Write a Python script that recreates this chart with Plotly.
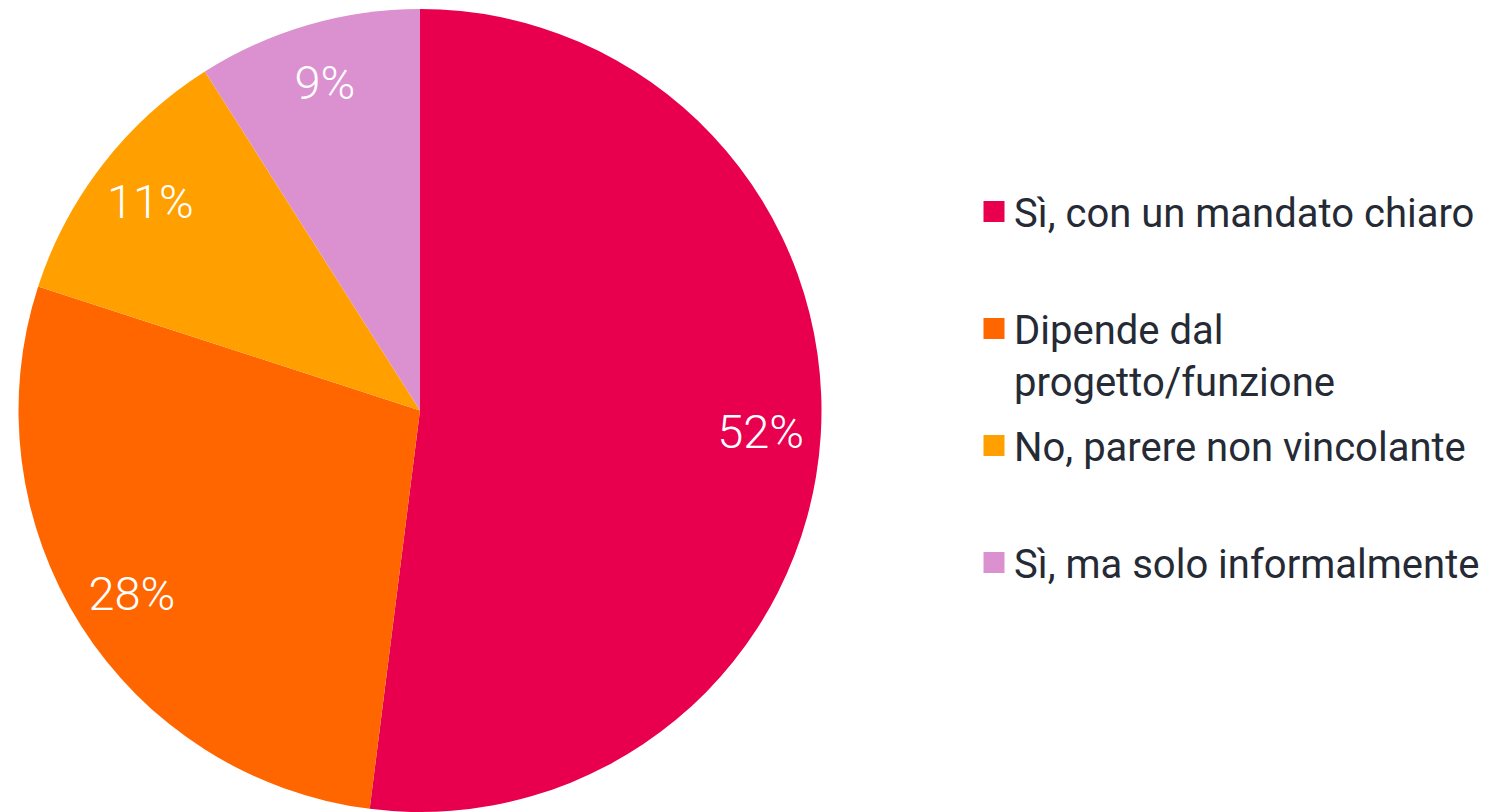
import plotly.graph_objects as go

labels = ["Sì, con un mandato chiaro", "Dipende dal<br>progetto/funzione",
          "No, parere non vincolante", "Sì, ma solo informalmente"]
values = [52, 28, 11, 9]
colors = ["#E8004F", "#FF6600", "#FFA000", "#DB91D0"]

# page body has an 8px margin, so the figure is sized to fit the window
W, H = 1491, 804
PIE_DOMAIN = dict(x=[0, 824 / W], y=[0, 1])

fig = go.Figure()
# filled pie (no text)
fig.add_trace(go.Pie(
    labels=labels, values=values, sort=False, direction="clockwise", rotation=0,
    marker=dict(colors=colors, line=dict(width=0)),
    textinfo="none", domain=PIE_DOMAIN, showlegend=False,
    hoverinfo="label+percent",
))
# transparent ring on top carrying the percentage labels near the rim
fig.add_trace(go.Pie(
    labels=labels, values=values, sort=False, direction="clockwise", rotation=0,
    hole=0.7,
    marker=dict(colors=["rgba(0,0,0,0)"] * len(values), line=dict(width=0)),
    texttemplate="%{percent:.0%}", textposition="inside",
    insidetextorientation="horizontal",
    textfont=dict(family="Roboto", size=47, color="white", weight=300),
    domain=PIE_DOMAIN, showlegend=False, hoverinfo="skip",
))

# legend entries (one group per category so they can be evenly spaced)
for i, (lab, col) in enumerate(zip(labels, colors)):
    name = lab if "<br>" in lab else lab + "<br>\u00a0"
    fig.add_trace(go.Scatter(
        x=[None], y=[None], mode="markers", name=name, legendgroup=f"g{i}",
        marker=dict(symbol="square", size=16, color=col, line=dict(color=col, width=5)),
        showlegend=True, hoverinfo="skip",
    ))

fig.update_layout(
    width=W, height=H,
    margin=dict(l=0, r=0, t=1, b=0),
    paper_bgcolor="white", plot_bgcolor="white",
    xaxis=dict(visible=False), yaxis=dict(visible=False),
    legend=dict(
        x=966 / W, xanchor="left", y=1 - 170 / 803, yanchor="top",
        traceorder="grouped", tracegroupgap=10, valign="top",
        font=dict(family="Roboto", size=40, color="#252A35"),
        bgcolor="rgba(0,0,0,0)", itemclick=False, itemdoubleclick=False,
    ),
)

fig.write_html("out.html")
